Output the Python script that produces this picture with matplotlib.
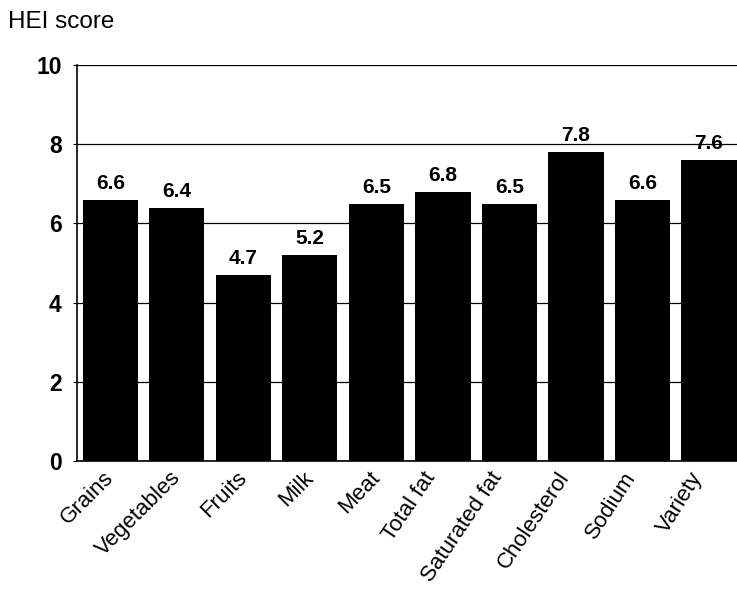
import matplotlib.pyplot as plt
import matplotlib.transforms as mtransforms

categories = ["Grains", "Vegetables", "Fruits", "Milk", "Meat", "Total fat",
              "Saturated fat", "Cholesterol", "Sodium", "Variety"]
scores = [6.6, 6.4, 4.7, 5.2, 6.5, 6.8, 6.5, 7.8, 6.6, 7.6]
yticks = [0, 2, 4, 6, 8, 10]
# the right-hand labels were set at a steeper slant
label_angles = [45, 45, 45, 45, 46, 56, 56, 56, 57, 58]

plt.rcParams['font.family'] = ['Liberation Sans', 'DejaVu Sans']

fig = plt.figure(figsize=(7.37, 5.9), dpi=100)
ax = fig.add_axes([0.1045, 0.2186, 0.8955, 0.6712])

x = range(len(categories))
bars = ax.bar(x, scores, width=0.83, color='black', zorder=3)

for xi, v in zip(x, scores):
    ax.annotate(f"{v:.1f}", (xi, v), xytext=(0, 5), textcoords='offset points',
                ha='center', va='bottom', fontsize=15, fontweight='bold', zorder=4)

ax.set_ylim(0, 10)
ax.set_xlim(-0.5, 9.42)
ax.set_yticks(yticks)
ax.set_yticklabels([str(t) for t in yticks], fontsize=16.5, fontweight='bold')
ax.yaxis.grid(True, color='black', linewidth=0.9, zorder=0)

# category labels drawn by hand so each one can be slanted and nudged
ax.set_xticks(list(x))
ax.set_xticklabels([])
for xi, name, ang in zip(x, categories, label_angles):
    dx, dy = (-0.07, -0.065) if ang < 50 else (-0.20, -0.07)
    shift = mtransforms.ScaledTranslation(dx, dy, fig.dpi_scale_trans)
    ax.text(xi, 0, name, rotation=ang, ha='right', va='top',
            rotation_mode='anchor', fontsize=16,
            transform=ax.get_xaxis_transform() + shift)
ax.tick_params(axis='x', length=0)
ax.tick_params(axis='y', length=3, width=0.8, pad=8)

for side in ['top', 'right']:
    ax.spines[side].set_visible(False)
ax.spines['left'].set_linewidth(1.2)
ax.spines['bottom'].set_linewidth(1.2)

fig.text(0.011, 0.962, "HEI score", fontsize=17.5, ha='left', va='center')

fig.savefig("out.png", dpi=100)
